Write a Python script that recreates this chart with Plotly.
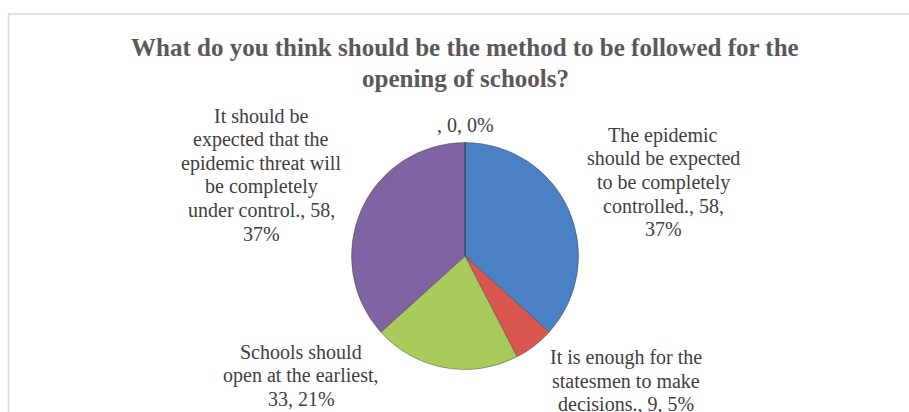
import plotly.graph_objects as go

# Survey answers (clockwise from 12 o'clock)
categories = [
    "The epidemic should be expected to be completely controlled.",
    "It is enough for the statesmen to make decisions.",
    "Schools should open at the earliest",
    "It should be expected that the epidemic threat will be completely under control.",
    "",
]
counts = [58, 9, 33, 58, 0]
percent_labels = ["37%", "5%", "21%", "37%", "0%"]
slice_colors = ["#4A80C4", "#D9564F", "#A8CB5C", "#7F63A3", "#F79646"]

# How each data label is wrapped onto lines
label_lines = [
    ["The epidemic", "should be expected", "to be completely", "controlled.,"],
    ["It is enough for the", "statesmen to make", "decisions.,"],
    ["Schools should", "open at the earliest,", ""],
    ["It should be", "expected that the", "epidemic threat will", "be completely", "under control.,"],
    [""],
]
# Label centre x and first-line centre y, in pixels
label_pos = [(663, 135), (626, 357), (301, 352), (261, 116), (465, 125)]
split_after_value = [True, False, False, True, False]

title_lines = ["What do you think should be the method to be followed for the", "opening of schools?"]

W, H = 909, 412
cx, cy, r = 465, 256, 113.5
line_step = 23.6

fig = go.Figure()
fig.add_trace(go.Pie(
    labels=[c if c else " " for c in categories],
    values=counts,
    sort=False,
    direction="clockwise",
    rotation=0,
    textinfo="none",
    hoverinfo="label+value+percent",
    marker=dict(colors=slice_colors, line=dict(color="rgba(60,60,60,0.55)", width=0.8)),
    showlegend=False,
    domain=dict(x=[(cx - r) / W, (cx + r) / W], y=[1 - (cy + r) / H, 1 - (cy - r) / H]),
))

serif = "Liberation Serif"
label_font = dict(family=serif, size=20, color="#404040")


def put_line(text, px, py, font):
    fig.add_annotation(
        x=px / W, y=1 - py / H, xref="paper", yref="paper",
        text=text, showarrow=False, align="center",
        xanchor="center", yanchor="middle", font=font,
    )


for lines, n, pct, (px, py), brk in zip(label_lines, counts, percent_labels, label_pos, split_after_value):
    body = list(lines)
    tail = f"{n}," if brk else f"{n}, {pct}"
    if len(body) == 1 and not body[0]:
        body = [f", {n}, {pct}"]
    else:
        body[-1] = (body[-1] + " " + tail) if body[-1] else tail
        if brk:
            body.append(pct)
    for i, line in enumerate(body):
        put_line(line, px, py + i * line_step, label_font)

# Chart title
title_font = dict(family=serif, size=25, color="#595959")
for i, line in enumerate(title_lines):
    put_line(f"<b>{line}</b>", 465, 48 + i * 30, title_font)

# Chart-area frame
fig.add_shape(
    type="rect", xref="paper", yref="paper",
    x0=8.5 / W, x1=1.05, y0=-0.05, y1=1 - 14 / H,
    line=dict(color="#D9D9D9", width=1.5), fillcolor="rgba(0,0,0,0)",
)

fig.update_layout(
    width=W, height=H,
    margin=dict(l=0, r=0, t=0, b=0),
    paper_bgcolor="white",
    plot_bgcolor="white",
)

fig.write_html("out.html")
